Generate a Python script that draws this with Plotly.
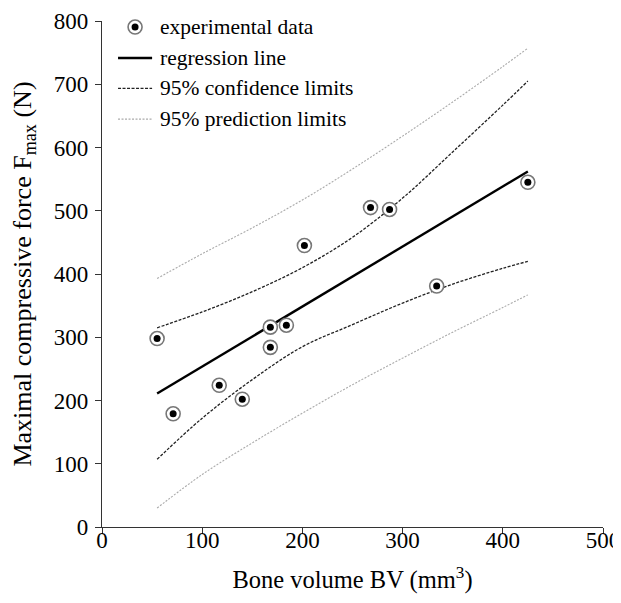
import plotly.graph_objects as go

bv = [55, 71, 117, 140, 168, 168, 184, 202, 268, 287, 334, 425]
fmax = [298, 179, 224, 202, 316, 284, 319, 445, 505, 502, 381, 545]

# regression line end points
reg_x = [55, 425]
reg_y = [211, 562]

# confidence / prediction limits, sampled along the curves
lim_x = [55, 100, 150, 200, 250, 300, 350, 400, 425]
ci_upper = [315, 340, 372, 410, 458, 520, 593, 667, 705]
ci_lower = [107, 172, 233, 285, 320, 354, 384, 409, 420]
pi_upper = [393, 432, 473, 517, 566, 618, 672, 728, 757]
pi_lower = [30, 83, 133, 180, 225, 267, 308, 347, 367]

legend_labels = ["experimental data", "regression line",
                 "95% confidence limits", "95% prediction limits"]

FONT = "Liberation Serif, Times New Roman, serif"
reg_line = dict(color="black", width=2.4)
ci_line = dict(color="#222", width=1.3, dash="3px,1.5px")
pi_line = dict(color="#aaa", width=1.1, dash="2px,1.5px")

fig = go.Figure()
fig.add_trace(go.Scatter(x=reg_x, y=reg_y, mode="lines", name=legend_labels[1], line=reg_line))
for ys in (ci_upper, ci_lower):
    fig.add_trace(go.Scatter(x=lim_x, y=ys, mode="lines", name=legend_labels[2],
                             line=dict(ci_line, shape="spline")))
for ys in (pi_upper, pi_lower):
    fig.add_trace(go.Scatter(x=lim_x, y=ys, mode="lines", name=legend_labels[3],
                             line=dict(pi_line, shape="spline")))

# ring around each point + black centre
fig.add_trace(go.Scatter(x=bv, y=fmax, mode="markers", name=legend_labels[0],
                         marker=dict(symbol="circle", size=14, color="white",
                                     line=dict(color="#777", width=1.6))))
fig.add_trace(go.Scatter(x=bv, y=fmax, mode="markers", name=legend_labels[0],
                         marker=dict(symbol="circle", size=7, color="black")))

# legend drawn in the top-left corner of the plot (plotly's own legend
# cannot sit this close to the top edge without pushing the margin)
row_y = [0.988, 0.927, 0.867, 0.806]
sample_x0, sample_x1, symbol_x, text_x = 0.032, 0.100, 0.066, 0.112
pix = dict(xref="paper", yref="paper", xsizemode="pixel", ysizemode="pixel")
fig.add_shape(type="circle", xanchor=symbol_x, yanchor=row_y[0], x0=-7, x1=7, y0=-7, y1=7,
              fillcolor="white", line=dict(color="#777", width=1.6), **pix)
fig.add_shape(type="circle", xanchor=symbol_x, yanchor=row_y[0], x0=-3.5, x1=3.5, y0=-3.5, y1=3.5,
              fillcolor="black", line=dict(width=0), **pix)
for ry, ln in zip(row_y[1:], (reg_line, ci_line, pi_line)):
    fig.add_shape(type="line", xref="paper", yref="paper", x0=sample_x0, x1=sample_x1,
                  y0=ry, y1=ry, line=ln)
for ry, label in zip(row_y, legend_labels):
    fig.add_annotation(text=label, xref="paper", yref="paper", x=text_x, y=ry,
                       xanchor="left", yanchor="middle", showarrow=False,
                       font=dict(size=21.5, family=FONT, color="black"))

axis_common = dict(showline=True, linecolor="#333", linewidth=1.2, ticks="outside",
                   ticklen=6, tickwidth=1.2, tickcolor="#333", showgrid=False,
                   zeroline=False, automargin=False,
                   tickfont=dict(size=23, family=FONT, color="black"))

# the page body adds an 8px offset, so the figure is 8px smaller
fig.update_layout(
    width=613, height=595,
    margin=dict(l=94, r=18, t=13, b=76),
    paper_bgcolor="white", plot_bgcolor="white",
    font=dict(family=FONT, color="black"),
    showlegend=False,
)
fig.update_xaxes(range=[0, 500], tickvals=[0, 100, 200, 300, 400, 500], ticklabelstandoff=-14,
                 title=dict(text="Bone volume BV (mm<sup>3</sup>)", font=dict(size=24.5), standoff=19),
                 **axis_common)
fig.update_yaxes(range=[0, 800], tickvals=[0, 100, 200, 300, 400, 500, 600, 700, 800],
                 ticklabelstandoff=2,
                 title=dict(text="Maximal compressive force F<sub>max</sub> (N)", font=dict(size=26)),
                 **axis_common)

fig.write_html("out.html")
